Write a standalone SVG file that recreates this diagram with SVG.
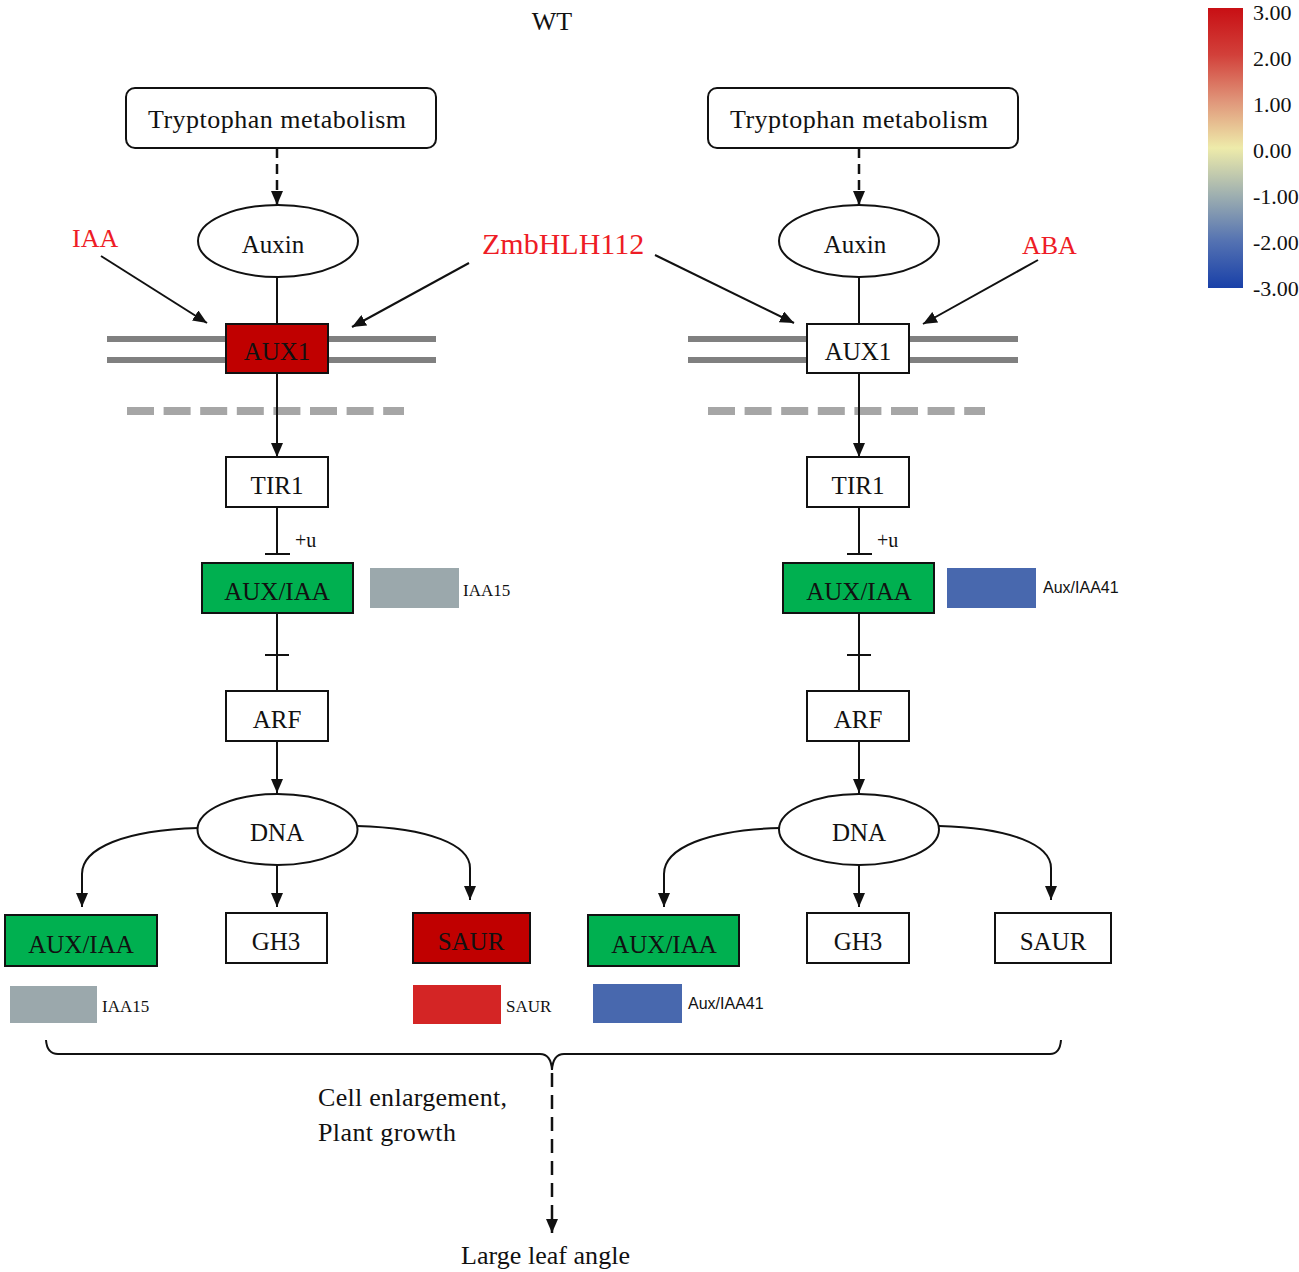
<svg xmlns="http://www.w3.org/2000/svg" width="1299" height="1272" viewBox="0 0 1299 1272">
<defs>
<style>
.t{font-family:"Liberation Serif","Times New Roman",serif;fill:#111;}
.lbl{font-size:25px;text-anchor:middle;}
.red{fill:#EE1C25;}
.box{fill:#fff;stroke:#111;stroke-width:2;}
.grn{fill:#00B050;stroke:#111;stroke-width:2;}
.drk{fill:#C00000;stroke:#111;stroke-width:2;}
.ln{fill:none;stroke:#111;stroke-width:2;}
.dash{fill:none;stroke:#111;stroke-width:2.5;}
.mem{stroke:#808080;stroke-width:6;}
.mem2{stroke:#A6A6A6;stroke-width:8;stroke-dasharray:27 9.6;}
.small{font-size:17px;}
.sans{font-family:"Liberation Sans",Arial,sans-serif;font-size:16px;fill:#111;}
.leg{font-size:22px;}
</style>
<marker id="ah" viewBox="0 0 14 12" refX="14" refY="6" markerWidth="14" markerHeight="12" markerUnits="userSpaceOnUse" orient="auto">
<path d="M0,0 L14,6 L0,12 z" fill="#111"/>
</marker>
<linearGradient id="lg" x1="0" y1="0" x2="0" y2="1">
<stop offset="0" stop-color="#C80F14"/>
<stop offset="0.167" stop-color="#D2403A"/>
<stop offset="0.333" stop-color="#E0967A"/>
<stop offset="0.5" stop-color="#EEEBAA"/>
<stop offset="0.667" stop-color="#9FB0B0"/>
<stop offset="0.833" stop-color="#5472B2"/>
<stop offset="1" stop-color="#1940A8"/>
</linearGradient>
</defs>
<rect width="1299" height="1272" fill="#fff"/>

<text class="t" x="552" y="30" font-size="26" text-anchor="middle">WT</text>

<!-- legend -->
<g id="legend">
<rect x="1208" y="8" width="35" height="280" fill="url(#lg)"/>
<text class="t leg" x="1253" y="20">3.00</text>
<text class="t leg" x="1253" y="66">2.00</text>
<text class="t leg" x="1253" y="112">1.00</text>
<text class="t leg" x="1253" y="158">0.00</text>
<text class="t leg" x="1253" y="204">-1.00</text>
<text class="t leg" x="1253" y="250">-2.00</text>
<text class="t leg" x="1253" y="296">-3.00</text>
</g>

<!-- membranes -->
<g id="membranes">
<line class="mem" x1="107" y1="339" x2="436" y2="339"/>
<line class="mem" x1="107" y1="360" x2="436" y2="360"/>
<line class="mem2" x1="127" y1="411" x2="404" y2="411"/>
<line class="mem" x1="688" y1="339" x2="1018" y2="339"/>
<line class="mem" x1="688" y1="360" x2="1018" y2="360"/>
<line class="mem2" x1="708" y1="411" x2="985" y2="411"/>
</g>

<!-- connectors -->
<g id="connectors">
<!-- left -->
<line class="dash" x1="277" y1="148" x2="277" y2="205" stroke-dasharray="10 6" marker-end="url(#ah)"/>
<line class="ln" x1="277" y1="277" x2="277" y2="324"/>
<line class="ln" x1="101" y1="256" x2="207" y2="323" marker-end="url(#ah)"/>
<line class="ln" x1="469" y1="263" x2="352" y2="327" marker-end="url(#ah)"/>
<line class="ln" x1="277" y1="373" x2="277" y2="457" marker-end="url(#ah)"/>
<line class="ln" x1="277" y1="507" x2="277" y2="554"/>
<line class="ln" x1="265" y1="554" x2="290" y2="554"/>
<line class="ln" x1="277" y1="613" x2="277" y2="691"/>
<line class="ln" x1="265" y1="655" x2="289" y2="655"/>
<line class="ln" x1="277" y1="741" x2="277" y2="793" marker-end="url(#ah)"/>
<path class="ln" d="M198,828 C125,830 82,848 82,874 L82,907" marker-end="url(#ah)"/>
<line class="ln" x1="277" y1="865" x2="277" y2="907" marker-end="url(#ah)"/>
<path class="ln" d="M357,826 C430,828 470,845 470,868 L470,900" marker-end="url(#ah)"/>
<!-- right -->
<line class="dash" x1="859" y1="148" x2="859" y2="205" stroke-dasharray="10 6" marker-end="url(#ah)"/>
<line class="ln" x1="859" y1="277" x2="859" y2="324"/>
<line class="ln" x1="655" y1="255" x2="794" y2="323" marker-end="url(#ah)"/>
<line class="ln" x1="1038" y1="260" x2="923" y2="324" marker-end="url(#ah)"/>
<line class="ln" x1="859" y1="373" x2="859" y2="457" marker-end="url(#ah)"/>
<line class="ln" x1="859" y1="507" x2="859" y2="554"/>
<line class="ln" x1="847" y1="554" x2="872" y2="554"/>
<line class="ln" x1="859" y1="613" x2="859" y2="691"/>
<line class="ln" x1="847" y1="655" x2="871" y2="655"/>
<line class="ln" x1="859" y1="741" x2="859" y2="793" marker-end="url(#ah)"/>
<path class="ln" d="M780,828 C707,830 664,848 664,874 L664,907" marker-end="url(#ah)"/>
<line class="ln" x1="859" y1="865" x2="859" y2="907" marker-end="url(#ah)"/>
<path class="ln" d="M939,826 C1012,828 1051,845 1051,868 L1051,900" marker-end="url(#ah)"/>
<!-- brace -->
<path class="ln" stroke-width="2.5" d="M46,1040 Q47,1054 58,1054 L540,1054 Q551,1054 552,1070 Q553,1054 564,1054 L1050,1054 Q1060,1054 1061,1040"/>
<line class="dash" x1="552" y1="1073" x2="552" y2="1233" stroke-dasharray="14 8" marker-end="url(#ah)"/>
</g>

<text class="t" x="295" y="547" font-size="20">+u</text>
<text class="t" x="877" y="547" font-size="20">+u</text>

<!-- external labels -->
<g id="labels">
<text class="t red" x="72" y="247" font-size="26">IAA</text>
<text class="t red" x="482" y="254" font-size="30">ZmbHLH112</text>
<text class="t red" x="1022" y="254" font-size="26">ABA</text>
</g>

<!-- left nodes -->
<g id="trp-left"><rect class="box" x="126" y="88" width="310" height="60" rx="9"/><text class="t" font-size="26" text-anchor="middle" x="277" y="128" textLength="258">Tryptophan metabolism</text></g>
<g id="auxin-left"><ellipse class="box" cx="278" cy="241" rx="80" ry="36"/><text class="t lbl" x="273" y="253">Auxin</text></g>
<g id="aux1-left"><rect class="drk" x="226" y="324" width="102" height="49"/><text class="t lbl" x="277" y="360">AUX1</text></g>
<g id="tir1-left"><rect class="box" x="226" y="457" width="102" height="50"/><text class="t lbl" x="277" y="494">TIR1</text></g>
<g id="auxiaa-left"><rect class="grn" x="202" y="563" width="151" height="50"/><text class="t lbl" x="277" y="600">AUX/IAA</text></g>
<g id="iaa15-top"><rect x="370" y="568" width="89" height="40" fill="#9BA8AC"/><text class="t small" x="463" y="596">IAA15</text></g>
<g id="arf-left"><rect class="box" x="226" y="691" width="102" height="50"/><text class="t lbl" x="277" y="728">ARF</text></g>
<g id="dna-left"><ellipse class="box" cx="277.5" cy="829.5" rx="80" ry="35.5"/><text class="t lbl" x="277" y="841">DNA</text></g>
<g id="auxiaa-bot-left"><rect class="grn" x="5" y="915" width="152" height="51"/><text class="t lbl" x="81" y="953">AUX/IAA</text></g>
<g id="gh3-left"><rect class="box" x="226" y="913" width="101" height="50"/><text class="t lbl" x="276" y="950">GH3</text></g>
<g id="saur-left"><rect class="drk" x="413" y="913" width="117" height="50"/><text class="t lbl" x="471" y="950">SAUR</text></g>
<g id="iaa15-bot"><rect x="10" y="986" width="87" height="37" fill="#9BA8AC"/><text class="t small" x="102" y="1012">IAA15</text></g>
<g id="saur-bar"><rect x="413" y="985" width="88" height="39" fill="#D42525"/><text class="t small" x="506" y="1012">SAUR</text></g>

<!-- right nodes -->
<g id="trp-right"><rect class="box" x="708" y="88" width="310" height="60" rx="9"/><text class="t" font-size="26" text-anchor="middle" x="859" y="128" textLength="258">Tryptophan metabolism</text></g>
<g id="auxin-right"><ellipse class="box" cx="859" cy="241" rx="80" ry="36"/><text class="t lbl" x="855" y="253">Auxin</text></g>
<g id="aux1-right"><rect class="box" x="807" y="324" width="102" height="49"/><text class="t lbl" x="858" y="360">AUX1</text></g>
<g id="tir1-right"><rect class="box" x="807" y="457" width="102" height="50"/><text class="t lbl" x="858" y="494">TIR1</text></g>
<g id="auxiaa-right"><rect class="grn" x="783" y="563" width="151" height="50"/><text class="t lbl" x="859" y="600">AUX/IAA</text></g>
<g id="aux41-top"><rect x="947" y="568" width="89" height="40" fill="#4868AE"/><text class="sans" x="1043" y="593">Aux/IAA41</text></g>
<g id="arf-right"><rect class="box" x="807" y="691" width="102" height="50"/><text class="t lbl" x="858" y="728">ARF</text></g>
<g id="dna-right"><ellipse class="box" cx="859" cy="829.5" rx="80" ry="35.5"/><text class="t lbl" x="859" y="841">DNA</text></g>
<g id="auxiaa-bot-right"><rect class="grn" x="588" y="915" width="151" height="51"/><text class="t lbl" x="664" y="953">AUX/IAA</text></g>
<g id="gh3-right"><rect class="box" x="807" y="913" width="102" height="50"/><text class="t lbl" x="858" y="950">GH3</text></g>
<g id="saur-right"><rect class="box" x="995" y="913" width="116" height="50"/><text class="t lbl" x="1053" y="950">SAUR</text></g>
<g id="aux41-bot"><rect x="593" y="984" width="89" height="39" fill="#4868AE"/><text class="sans" x="688" y="1009">Aux/IAA41</text></g>

<!-- outcome -->
<g id="outcome">
<text class="t" x="318" y="1106" font-size="26" textLength="189">Cell enlargement,</text>
<text class="t" x="318" y="1141" font-size="26" textLength="138">Plant growth</text>
<text class="t" x="461" y="1264" font-size="26" textLength="169">Large leaf angle</text>
</g>
</svg>
